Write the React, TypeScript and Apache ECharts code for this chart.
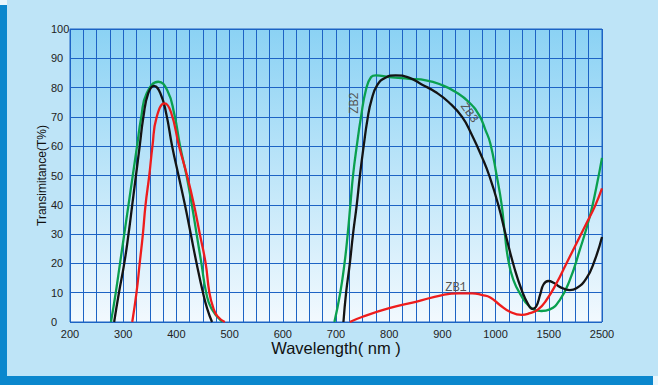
import React, { useEffect, useRef } from "react";
import * as echarts from "echarts";

// Tick labels of the (piecewise) wavelength axis, one per major grid line
const xTickLabels = ["200", "300", "400", "500", "600", "700", "800", "900", "1000", "1500", "2500"];

// [wavelength nm, transmittance %]; null splits a curve into separate pieces
const zb1Red: ([number, number] | null)[] = [
  [317, 0], [325, 10], [331, 20], [337, 30], [342, 40], [349, 50], [355, 60], [363, 70],
  [378, 74.6], [390, 71.5], [405, 60], [420, 50], [433, 40], [444, 30], [455, 20], [462, 10],
  [469, 5], [477, 2], [491, 0],
  null,
  [726, 0], [750, 1.8], [800, 4.7], [850, 6.9], [900, 9.2], [931, 9.8], [956, 9.8],
  [975, 9.2], [990, 8.4], [1040, 5.8], [1134, 3.5], [1244, 2.4], [1322, 3], [1400, 4.3],
  [1478, 7.5], [1644, 13.2], [1831, 20], [2019, 26.8], [2206, 33.6], [2362, 39.3], [2500, 45.6],
];

const zb2Green: ([number, number] | null)[] = [
  [277, 0], [286, 10], [294, 20], [302, 30], [310, 40], [318, 50], [326, 60], [334, 70],
  [344, 78], [366, 82], [383, 79], [396, 71], [407, 60], [419, 50], [429, 40], [438, 30],
  [447, 20], [456, 10], [466, 4.5], [486, 0],
  null,
  [697, 0], [708, 10], [716, 20], [722, 30], [727, 40], [732, 50], [739, 60], [747, 70],
  [756, 79], [766, 83.6], [775, 84.2], [800, 83.6], [837, 83], [869, 82.5], [900, 80.8],
  [925, 78.5], [950, 75], [969, 70.6], [981, 65.5], [990, 61], [1010, 50], [1057, 40],
  [1087, 30], [1120, 21], [1166, 14.5], [1228, 9.8], [1322, 5.2], [1431, 3.75], [1519, 4.3],
  [1706, 7.5], [1894, 14.3], [2081, 24.5], [2269, 35.9], [2394, 46], [2500, 56],
];

const zb3Black: ([number, number] | null)[] = [
  [283, 0], [292, 10], [302, 20], [310, 30], [317, 40], [324, 50], [331, 60], [338, 70],
  [347, 78], [358, 80.6], [370, 78], [381, 71], [392, 60], [404, 50], [416, 40], [427, 30],
  [438, 20], [450, 10], [458, 4.5], [467, 0],
  null,
  [714, 0], [719, 10], [726, 20], [732, 30], [739, 40], [745, 50], [752, 60], [759, 69],
  [767, 76], [778, 81], [792, 83.3], [812, 84.2], [837, 83.4], [862, 81], [887, 78.5],
  [912, 75], [937, 70], [955, 64], [975, 56], [988, 50], [1025, 40], [1100, 29],
  [1180, 18], [1244, 11], [1306, 6], [1345, 4.5], [1380, 5.2], [1420, 9.5], [1450, 12.8],
  [1495, 14], [1600, 13.3], [1706, 12], [1894, 10.9], [2019, 11.5], [2206, 14.9],
  [2362, 21], [2500, 29],
];

// piecewise axis: 200..1000 linear (100 nm per major), then 1000-1500, 1500-2500 one major each
function toAxis(w: number): number {
  if (w <= 1000) return (w - 200) / 100;
  if (w <= 1500) return 8 + (w - 1000) / 500;
  return 9 + (w - 1500) / 1000;
}

function mapSeries(arr: ([number, number] | null)[]) {
  return arr.map((p) => (p ? [toAxis(p[0]), p[1]] : [null, null]));
}

const gridLine = "#1d63c4";
const labelFont = "Arial, 'Liberation Sans', sans-serif";

export default function App() {
  const ref = useRef<HTMLDivElement>(null);
  useEffect(() => {
    if (!ref.current) return;
    const chart = echarts.init(ref.current, null, { renderer: "svg" });
    const lineSeries = (name: string, data: ([number, number] | null)[], color: string) => ({
      name,
      type: "line",
      data: mapSeries(data),
      smooth: 0.5,
      showSymbol: false,
      connectNulls: false,
      lineStyle: { color, width: 2.3 },
      itemStyle: { color },
      clip: true,
    });
    chart.setOption({
      animation: false,
      backgroundColor: "#bee4f7",
      grid: {
        left: 70,
        right: 56,
        top: 29,
        bottom: 63,
        show: true,
        borderColor: gridLine,
        borderWidth: 1,
        backgroundColor: new echarts.graphic.LinearGradient(0, 0, 0, 1, [
          { offset: 0, color: "#8bd2f4" },
          { offset: 1, color: "#f2f9fe" },
        ]),
      },
      xAxis: {
        type: "value",
        min: 0,
        max: 10,
        interval: 1,
        axisLine: { show: false },
        axisTick: { show: false },
        minorTick: { show: false, splitNumber: 4 },
        splitLine: { show: true, lineStyle: { color: gridLine, width: 1 } },
        minorSplitLine: { show: true, lineStyle: { color: gridLine, width: 1 } },
        axisLabel: {
          margin: 6,
          color: "#222",
          fontSize: 11,
          fontFamily: labelFont,
          formatter: (v: number) => xTickLabels[Math.round(v)] ?? "",
        },
        name: "Wavelength( nm )",
        nameLocation: "middle",
        nameGap: 17,
        nameMoveOverlap: false,
        nameTextStyle: { color: "#111", fontSize: 16.5, fontFamily: labelFont },
      },
      yAxis: {
        type: "value",
        min: 0,
        max: 100,
        interval: 10,
        axisLine: { show: false },
        axisTick: { show: false },
        splitLine: { show: true, lineStyle: { color: gridLine, width: 1 } },
        axisLabel: { margin: 19, align: "left", color: "#222", fontSize: 11, fontFamily: labelFont },
        name: "Transimitance(T%)",
        nameLocation: "middle",
        nameGap: 22,
        nameMoveOverlap: false,
        nameTextStyle: { color: "#111", fontSize: 12, fontFamily: labelFont },
      },
      graphic: [
        { type: "rect", shape: { x: 0, y: 5, width: 7, height: 380 }, style: { fill: "#0b87cd" }, silent: true },
        { type: "rect", shape: { x: 0, y: 376, width: 653, height: 9 }, style: { fill: "#0b87cd" }, silent: true },
        { type: "rect", shape: { x: 0, y: 0, width: 7, height: 5 }, style: { fill: "#eaf6fc" }, silent: true },
        { type: "rect", shape: { x: 653, y: 376, width: 5, height: 9 }, style: { fill: "#eaf6fc" }, silent: true },
        {
          type: "text", x: 355, y: 103, rotation: Math.PI / 2, z: 10,
          style: { text: "ZB2", fill: "#555", font: "12px 'Liberation Mono', monospace", align: "center", verticalAlign: "middle" },
        },
        {
          type: "text", x: 469, y: 113, rotation: -0.95, z: 10,
          style: { text: "ZB3", fill: "#555", font: "12px 'Liberation Mono', monospace", align: "center", verticalAlign: "middle" },
        },
        {
          type: "text", x: 456, y: 288, rotation: 0, z: 10,
          style: { text: "ZB1", fill: "#555", font: "12px 'Liberation Mono', monospace", align: "center", verticalAlign: "middle" },
        },
      ],
      series: [
        lineSeries("ZB2", zb2Green, "#0aa04f"),
        lineSeries("ZB3", zb3Black, "#141414"),
        lineSeries("ZB1", zb1Red, "#ee1c1c"),
      ],
    });
    return () => chart.dispose();
  }, []);
  return (
    <div
      ref={ref}
      style={{ position: "fixed", left: 0, top: 0, width: 658, height: 385 }}
    />
  );
}
